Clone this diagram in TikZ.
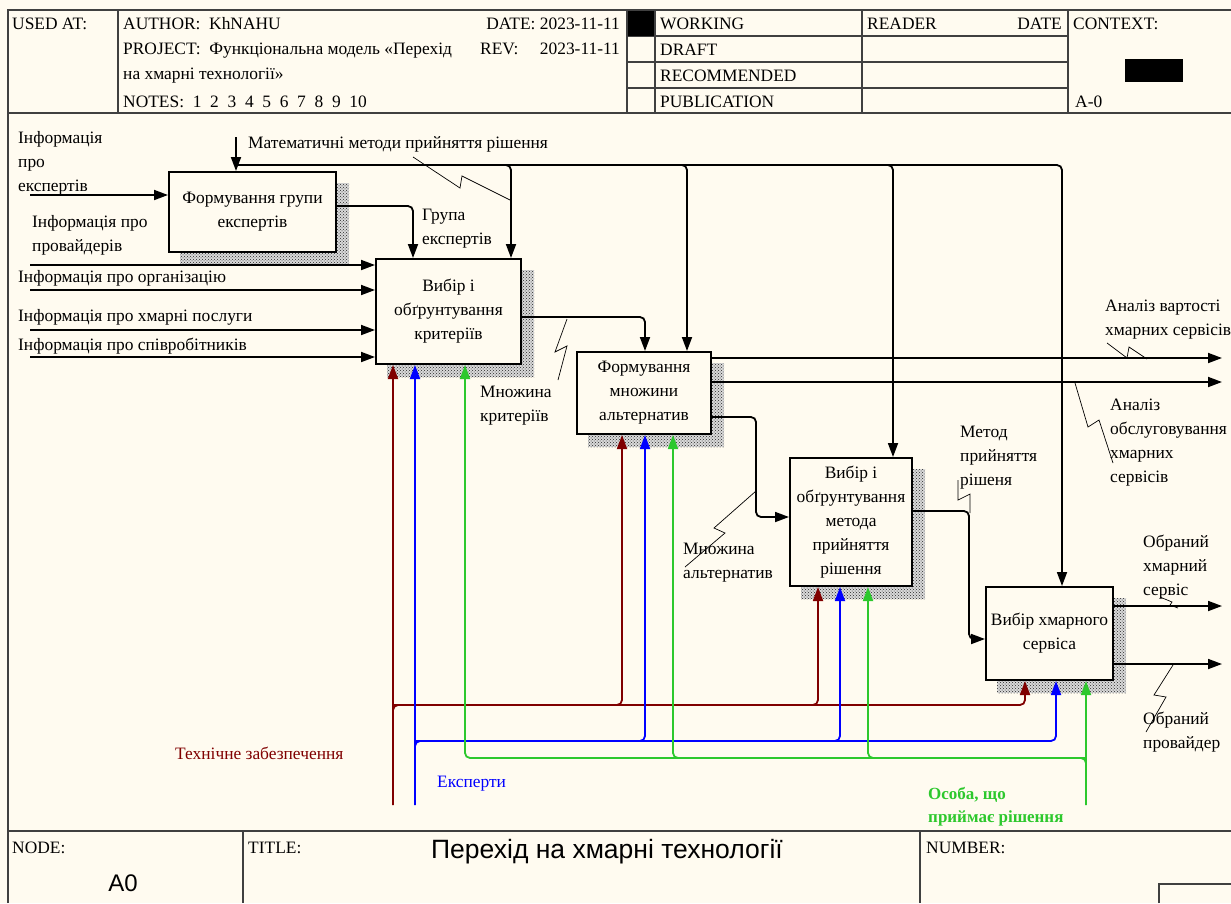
\documentclass[tikz,border=0pt]{standalone}
\usepackage{fontspec}
\setmainfont{Liberation Serif}
\newfontfamily\titlefont{Liberation Sans}
\usetikzlibrary{arrows.meta,calc,patterns}
\pgfdeclarelayer{bg}
\pgfsetlayers{bg,main}

\definecolor{paper}{RGB}{255,251,240}
\definecolor{techred}{RGB}{128,0,0}
\definecolor{expblue}{RGB}{0,0,255}
\definecolor{persgreen}{RGB}{45,200,45}

\begin{document}
\begin{tikzpicture}[x=1pt,y=-1pt,
  txt/.style={inner sep=0pt, font=\fontsize{17.4}{24}\selectfont},
  lbl/.style={txt, anchor=base west, align=left},
  func/.style={txt, draw, line width=2pt, fill=paper, align=center},
  sheet/.style={draw=black!75, line width=1.4pt},
  flow/.style={line width=1.8pt, rounded corners=5pt, -{Triangle[length=14pt,width=10pt]}},
  mech/.style={flow, color=#1},
  zig/.style={line width=0.7pt}]
\useasboundingbox (0,0) rectangle (1231,903);

% form frame
\draw[sheet] (8,903) -- (8,10) -- (1231,10);
\draw[sheet] (8,113) -- (1231,113);
\foreach \x in {118,627,655,862,1068}
  \draw[sheet] (\x,10) -- (\x,113);
\foreach \y in {36,62,88}
  \draw[sheet] (627,\y) -- (1068,\y);
\fill (628,11) rectangle (654,36);
\fill (1125,59) rectangle (1183,82);
\draw[sheet] (8,831) -- (1231,831);
\draw[sheet] (243,831) -- (243,903);
\draw[sheet] (920,831) -- (920,903);
\draw[sheet] (1159,903) -- (1159,884) -- (1231,884);

\node[lbl] (usedat) at (12,29) {USED AT:};
\node[lbl] (author) at (123,29) {AUTHOR:~ KhNAHU};
\node[lbl] (project) at (123,54) {PROJECT:~ Функціональна модель «Перехід};
\node[lbl] (project2) at (123,79) {на хмарні технології»};
\node[lbl] (notes) at (123,107) {NOTES:~ 1~ 2~ 3~ 4~ 5~ 6~ 7~ 8~ 9~ 10};
\node[txt, anchor=base east] (date) at (620,29) {DATE: 2023-11-11};
\node[lbl] (rev) at (480,54) {REV:};
\node[txt, anchor=base east] (revdate) at (620,54) {2023-11-11};
\node[lbl] (working) at (660,29) {WORKING};
\node[lbl] (draft) at (660,55) {DRAFT};
\node[lbl] (recom) at (660,81) {RECOMMENDED};
\node[lbl] (public) at (660,107) {PUBLICATION};
\node[lbl] (reader) at (867,29) {READER};
\node[txt, anchor=base east] (rdate) at (1062,29) {DATE};
\node[lbl] (context) at (1073,29) {CONTEXT:};
\node[lbl] (ctxnode) at (1075,107) {A-0};
\node[lbl] (nodelbl) at (12,853) {NODE:};
\node[lbl] (titlelbl) at (248,853) {TITLE:};
\node[lbl] (numlbl) at (926,853) {NUMBER:};
\node[inner sep=0pt, font=\titlefont\fontsize{26.5}{30}\selectfont] (title) at (607,852) {Перехід на хмарні технології};
\node[inner sep=0pt, font=\titlefont\fontsize{24}{30}\selectfont] (nodeid) at (123,883) {A0};

% functions
\node[func, minimum width=167pt, minimum height=80pt] (b1) at (252.5,212) {Формування групи\\експертів};
\node[func, minimum width=145pt, minimum height=105pt] (b2) at (448.5,311.5) {Вибір і\\обґрунтування\\критеріїв};
\node[func, minimum width=134pt, minimum height=82pt] (b3) at (644,393) {Формування\\множини\\альтернатив};
\node[func, minimum width=122pt, minimum height=128pt] (b4) at (851,522) {Вибір і\\обґрунтування\\метода\\прийняття\\рішення};
\node[func, minimum width=127pt, minimum height=93pt] (b5) at (1049.5,633.5) {Вибір хмарного\\сервіса};

% controls
\coordinate (mathsrc) at (236,137);
\coordinate (mathbus) at (236,165);
\draw[flow] (mathsrc) -- (mathsrc |- b1.north);
\draw[flow] (mathbus) -| ($(b2.north west)+(136,0)$);
\draw[flow] (mathbus) -| ($(b3.north west)+(111,0)$);
\draw[flow] (mathbus) -| ($(b4.north west)+(104,0)$);
\draw[flow] (mathbus) -| ($(b5.north west)+(77,0)$);

% inputs
\coordinate (srcexp) at (30,195);
\coordinate (srcprov) at (30,265);
\coordinate (srcorg) at (30,290);
\coordinate (srcserv) at (30,330);
\coordinate (srcstaff) at (30,357);
\draw[flow] (srcexp) -- (srcexp -| b1.west);
\foreach \s in {srcprov,srcorg,srcserv,srcstaff}
  \draw[flow] (\s) -- (\s -| b2.west);

% outputs
\coordinate (outcost) at (1222,358);
\coordinate (outserv) at (1222,382);
\coordinate (outcloud) at (1222,606);
\coordinate (outprov) at (1222,664);
\draw[flow] ($(b1.north east)+(0,35)$) -| ($(b2.north west)+(38,0)$);
\draw[flow] ($(b2.north east)+(0,59)$) -| ($(b3.north west)+(69,0)$);
\draw[flow] (outcost -| b3.east) -- (outcost);
\draw[flow] (outserv -| b3.east) -- (outserv);
\draw[flow] ($(b3.north east)+(0,66)$) -- ++(44,0) |- ($(b4.north west)+(0,60)$);
\draw[flow] ($(b4.north east)+(0,54)$) -- ++(56,0) |- ($(b5.north west)+(0,53)$);
\draw[flow] (outcloud -| b5.east) -- (outcloud);
\draw[flow] (outprov -| b5.east) -- (outprov);

% mechanisms
\coordinate (srctech) at (393,805);
\coordinate (techbus) at (393,705);
\coordinate (srcexpert) at (415,805);
\coordinate (expbus) at (415,741);
\coordinate (srcperson) at (1086,805);
\coordinate (personbus) at (1086,758);
\draw[mech=techred] (srctech) -- (srctech |- b2.south);
\draw[mech=techred] (srctech) -- (techbus) -| ($(b5.south west)+(40,0)$);
\draw[mech=techred] (techbus) -| ($(b3.south west)+(46,0)$);
\draw[mech=techred] (techbus) -| ($(b4.south west)+(29,0)$);
\draw[mech=expblue] (srcexpert) -- (srcexpert |- b2.south);
\draw[mech=expblue] (srcexpert) -- (expbus) -| ($(b5.south west)+(71,0)$);
\draw[mech=expblue] (expbus) -| ($(b3.south west)+(69,0)$);
\draw[mech=expblue] (expbus) -| ($(b4.south west)+(51,0)$);
\draw[mech=persgreen] (srcperson) -- (srcperson |- b5.south);
\draw[mech=persgreen] (srcperson) -- (personbus) -| ($(b2.south west)+(90,0)$);
\draw[mech=persgreen] (personbus) -| ($(b3.south west)+(97,0)$);
\draw[mech=persgreen] (personbus) -| ($(b4.south west)+(79,0)$);

% labels (base = last line)
\node[lbl] (lmath) at (248,148) {Математичні методи прийняття рішення};
\node[lbl] (lexp) at (18,191) {Інформація\\про\\експертів};
\node[lbl] (lprov) at (32,251) {Інформація про\\провайдерів};
\node[lbl] (lorg) at (18,282) {Інформація про організацію};
\node[lbl] (lserv) at (18,321) {Інформація про хмарні послуги};
\node[lbl] (lstaff) at (18,350) {Інформація про співробітників};
\node[lbl] (lgroup) at (422,244) {Група\\експертів};
\node[lbl] (lcrit) at (480,421) {Множина\\критеріїв};
\node[lbl] (lcost) at (1105,335) {Аналіз вартості\\хмарних сервісів};
\node[lbl] (lmaint) at (1110,482) {Аналіз\\обслуговування\\хмарних\\сервісів};
\node[lbl] (lalt) at (683,578) {Множина\\альтернатив};
\node[lbl] (lmeth) at (960,485) {Метод\\прийняття\\рішеня};
\node[lbl] (lcloud) at (1143,595) {Обраний\\хмарний\\сервіс};
\node[lbl] (lprovout) at (1143,748) {Обраний\\провайдер};
\node[lbl, text=techred] (ltech) at (175,759) {Технічне забезпечення};
\node[lbl, text=expblue] (lexpert) at (437,787) {Експерти};
\node[lbl, text=persgreen, font=\bfseries\fontsize{17}{23}\selectfont] (lperson) at (928,822) {Особа, що\\приймає рішення};

% squiggles
\draw[zig] (413,157) -- (460,188) -- (462,176) -- (510,200);
\draw[zig] (567,319) -- (555,352) -- (567,346) -- (558,380);
\draw[zig] (1107,343) -- (1127,358) -- (1129,347) -- (1147,359);
\draw[zig] (1075,383) -- (1088,427) -- (1099,420) -- (1113,463);
\draw[zig] (756,491) -- (714,528) -- (725,533) -- (685,567);
\draw[zig] (958,480) -- (958,500) -- (970,494) -- (970,513);
\draw[zig] (1160,597) -- (1172,602) -- (1170,605) -- (1178,608);
\draw[zig] (1173,665) -- (1154,695) -- (1166,697) -- (1146,732);

\begin{pgfonlayer}{bg}
\fill[paper] (0,0) rectangle (1231,903);
\foreach \b in {b1,b2,b3,b4,b5} {
  \fill[black!15] ($(\b.north west)+(12,12)$) rectangle ($(\b.south east)+(12,12)$);
  \fill[pattern=crosshatch dots, pattern color=black!85]
    ($(\b.north west)+(12,12)$) rectangle ($(\b.south east)+(12,12)$);
}
\end{pgfonlayer}
\end{tikzpicture}
\end{document}
